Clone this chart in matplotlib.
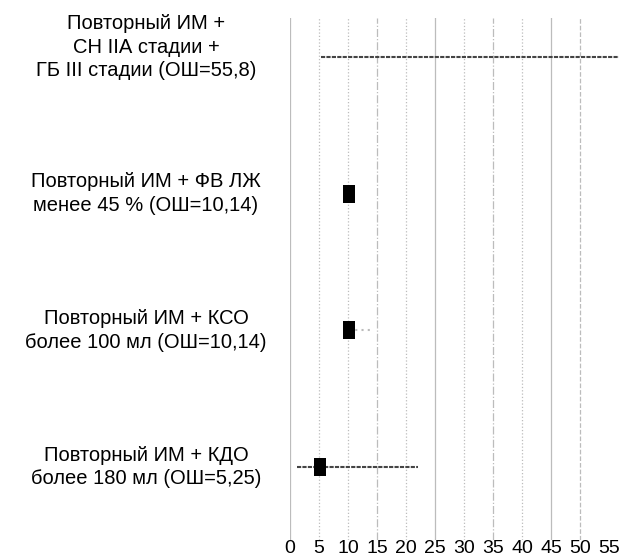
import matplotlib
matplotlib.use('Agg')
import matplotlib.pyplot as plt
from matplotlib.transforms import blended_transform_factory

plt.rcParams['font.family'] = ['Liberation Sans', 'DejaVu Sans']

labels = [
    'Повторный ИМ +\nСН IIА стадии +\nГБ III стадии (ОШ=55,8)',
    'Повторный ИМ + ФВ ЛЖ\nменее 45 % (ОШ=10,14)',
    'Повторный ИМ + КСО\nболее 100 мл (ОШ=10,14)',
    'Повторный ИМ + КДО\nболее 180 мл (ОШ=5,25)',
]
odds = [55.8, 10.14, 10.14, 5.25]
ci_low = [5.3, None, 10.14, 1.2]
ci_high = [70.0, None, 14.2, 22.1]
ci_style = ['--', None, ':', '--']
ci_color = ['#444444', None, '#bbbbbb', '#444444']
xticks = [0, 5, 10, 15, 20, 25, 30, 35, 40, 45, 50, 55]
grid_styles = ['-', ':', ':', '-.', ':', '-', ':', '-.', ':', '-', '--']
xmax = 55

fig = plt.figure(figsize=(6.19, 5.57), dpi=100)
ax = fig.add_axes([290 / 619, 17 / 557, 319 / 619, 522 / 557])

for x, ls in zip(xticks[:-1], grid_styles):
    ax.axvline(x, color='#bcbcbc', lw=0.9, ls=ls, zorder=1)

rows = list(range(len(labels)))
for i in rows:
    if ci_low[i] is not None:
        ax.plot([ci_low[i], ci_high[i]], [i, i], ls=ci_style[i], color=ci_color[i],
                lw=1.5, dashes=(2, 0.6) if ci_style[i] == '--' else (1, 2),
                zorder=2, clip_on=False)

# the point beyond the axis range is not shown in the original
shown = [i for i in rows if odds[i] <= xmax]
rect = [(-0.35, -0.5), (0.35, -0.5), (0.35, 0.5), (-0.35, 0.5), (-0.35, -0.5)]
ax.plot([odds[i] for i in shown], shown, ls='none', marker=rect, markersize=13,
        markeredgewidth=0, color='black', zorder=3)

ax.set_xlim(0, xmax)
ax.set_ylim(3.534, -0.285)
ax.set_xticks(xticks)
ax.set_xticklabels([str(t) for t in xticks], fontsize=14)
ax.tick_params(axis='x', length=0, pad=0)
ax.set_yticks([])
for s in ax.spines.values():
    s.set_visible(False)

trans = blended_transform_factory(fig.transFigure, ax.transData)
for i, lab in enumerate(labels):
    # the three-line label sits a little above its line
    dy = -0.07 if lab.count('\n') > 1 else 0.0
    ax.text(146 / 619, i + dy, lab, transform=trans, ha='center', va='center',
            fontsize=14.5, linespacing=1.3, clip_on=False)

fig.savefig('out.png', dpi=100)
